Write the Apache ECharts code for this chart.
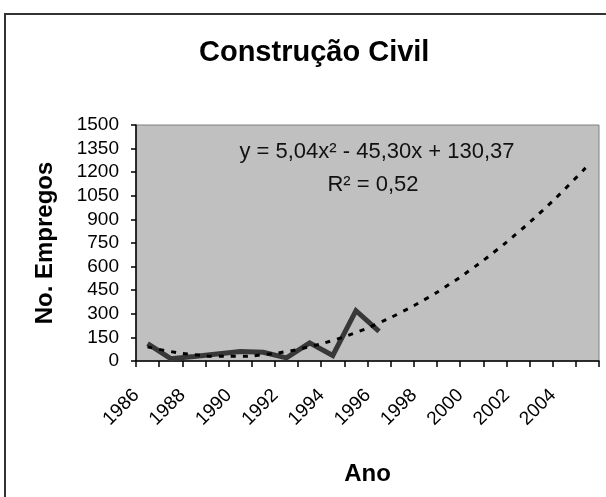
<!DOCTYPE html>
<html><head><meta charset="utf-8">
<script src="https://cdn.jsdelivr.net/npm/echarts@6/dist/echarts.min.js"></script>
<style>html,body{margin:0;padding:0;background:#fff}#c{width:606px;height:497px}</style>
</head><body><div id="c"></div>
<script>
// Categories (years) on the x axis
const years = ['1986','1987','1988','1989','1990','1991','1992','1993','1994','1995',
               '1996','1997','1998','1999','2000','2001','2002','2003','2004','2005'];
// Observed employment (No. Empregos), 1986-1996
const empregos = [110, 15, 28, 45, 60, 55, 20, 115, 35, 320, 188];
// Polynomial trendline, 1986-2005
const trend = [90, 60, 40, 30, 30, 40, 60, 91, 131, 181, 242, 313, 393, 484, 585, 696, 817, 948, 1089, 1240];
// Y axis range
const yMin = 0, yMax = 1500, yStep = 150;
const titleText = 'Construção Civil';
const eqText = 'y = 5,04x² - 45,30x + 130,37';
const r2Text = 'R² = 0,52';

const FONT = "'Liberation Sans', Arial, sans-serif";
const chart = echarts.init(document.getElementById('c'));
chart.setOption({
  animation: false,
  backgroundColor: '#fff',
  title: {
    text: titleText, left: 194, top: 33,
    textStyle: {fontFamily: FONT, fontSize: 29, fontWeight: 'bold', color: '#000'}
  },
  grid: {left: 136, top: 125, right: 7, bottom: 136, show: true,
         backgroundColor: '#c0c0c0', borderColor: '#808080', borderWidth: 1},
  xAxis: {
    type: 'category', data: years, boundaryGap: true,
    name: 'Ano', nameLocation: 'middle', nameGap: 101,
    nameTextStyle: {fontFamily: FONT, fontSize: 24, fontWeight: 'bold', color: '#000'},
    axisLine: {lineStyle: {color: '#000', width: 1.5}},
    axisTick: {show: true, interval: 0, length: 6, lineStyle: {color: '#000', width: 1.5}},
    axisLabel: {interval: 1, rotate: 45, margin: 20, padding: [0, 16, 0, 0],
                fontFamily: FONT, fontSize: 19, color: '#000'},
    splitLine: {show: false}
  },
  yAxis: {
    type: 'value', min: yMin, max: yMax, interval: yStep,
    name: 'No. Empregos', nameLocation: 'middle', nameGap: 79, nameRotate: 90,
    nameTextStyle: {fontFamily: FONT, fontSize: 24, fontWeight: 'bold', color: '#000'},
    axisLine: {show: true, lineStyle: {color: '#000', width: 1.5}},
    axisTick: {show: true, length: 5, lineStyle: {color: '#000', width: 1.5}},
    axisLabel: {margin: 17, fontFamily: FONT, fontSize: 19, color: '#000',
                formatter: function (v) { return String(v); }},
    splitLine: {show: false}
  },
  series: [
    {type: 'line', data: empregos, symbol: 'none',
     lineStyle: {color: '#383838', width: 5, join: 'miter'}, z: 2},
    {type: 'line', data: trend, symbol: 'none', smooth: true,
     lineStyle: {color: '#000', width: 3, type: [5, 7]}, z: 3}
  ],
  graphic: [
    {type: 'rect', silent: true, shape: {x: 5, y: 14, width: 900, height: 900},
     style: {fill: 'none', stroke: '#333', lineWidth: 2}},
    {type: 'text', x: 377, y: 152, silent: true,
     style: {text: eqText, fill: '#111', font: '22px ' + FONT, align: 'center', verticalAlign: 'middle'}},
    {type: 'text', x: 373, y: 185, silent: true,
     style: {text: r2Text, fill: '#111', font: '22px ' + FONT, align: 'center', verticalAlign: 'middle'}}
  ]
});
</script></body></html>
